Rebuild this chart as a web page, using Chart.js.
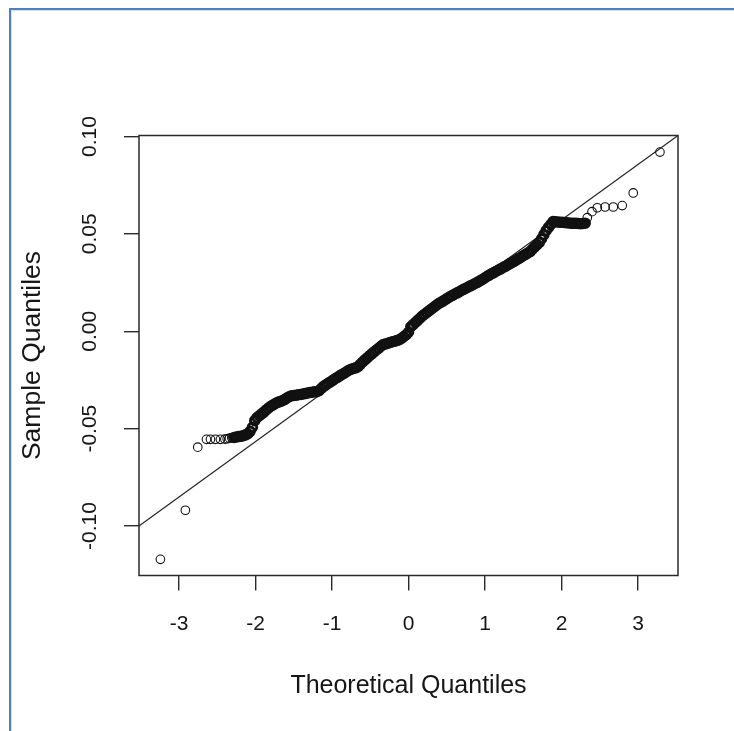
<!DOCTYPE html>
<html>
<head>
<meta charset="utf-8">
<title>Normal Q-Q Plot</title>
<script src="https://cdn.jsdelivr.net/npm/chart.js@4.4.1/dist/chart.umd.min.js"></script>
<style>
  html, body { margin: 0; padding: 0; background: #fff; overflow: hidden; }
  #frame {
    position: absolute; left: 9px; top: 8px; width: 780px; height: 780px;
    border-left: 2px solid #4f7fbf; border-top: 2px solid #4f7fbf;
    box-shadow: inset 1px 1px 0 #d6e2f2;
  }
  #wrap { position: absolute; left: 0; top: 0; width: 734px; height: 731px; }
</style>
</head>
<body>
<div id="frame"></div>
<div id="wrap"><canvas id="qq"></canvas></div>
<script>
// theoretical quantiles (x) and sample quantiles (y)
const theoretical = [
  -3.243, -2.917, -2.755, -2.641, -2.589, -2.524, -2.459,
  -2.40, -2.37, -2.34, -2.31, -2.28, -2.25, -2.22, -2.19, -2.16, -2.13,
  -2.10, -2.07, -2.04, -2.01, -1.98, -1.95, -1.92, -1.89, -1.86, -1.83,
  -1.80, -1.77, -1.74, -1.71, -1.68, -1.65, -1.62, -1.59, -1.56, -1.53,
  -1.50, -1.47, -1.44, -1.41, -1.38, -1.35, -1.32, -1.29, -1.26, -1.23,
  -1.20, -1.17, -1.14, -1.11, -1.08, -1.05, -1.02, -0.99, -0.96, -0.93,
  -0.90, -0.87, -0.84, -0.81, -0.78, -0.75, -0.72, -0.69, -0.66, -0.63,
  -0.60, -0.57, -0.54, -0.51, -0.48, -0.45, -0.42, -0.39, -0.36, -0.33,
  -0.30, -0.27, -0.24, -0.21, -0.18, -0.15, -0.12, -0.09, -0.06, -0.03,
  0.00, 0.03, 0.06, 0.09, 0.12, 0.15, 0.18, 0.21, 0.24, 0.27,
  0.30, 0.33, 0.36, 0.39, 0.42, 0.45, 0.48, 0.51, 0.54, 0.57,
  0.60, 0.63, 0.66, 0.69, 0.72, 0.75, 0.78, 0.81, 0.84, 0.87,
  0.90, 0.93, 0.96, 0.99, 1.02, 1.05, 1.08, 1.11, 1.14, 1.17,
  1.20, 1.23, 1.26, 1.29, 1.32, 1.35, 1.38, 1.41, 1.44, 1.47,
  1.50, 1.53, 1.56, 1.59, 1.62, 1.65, 1.68, 1.71, 1.74, 1.77,
  1.80, 1.83, 1.86, 1.89, 1.92, 1.95, 1.98, 2.01, 2.04, 2.07,
  2.10, 2.13, 2.16, 2.19, 2.22, 2.25, 2.28, 2.31,
  2.337, 2.399, 2.468, 2.569, 2.677, 2.794, 2.938, 3.287
];
const sample = [
  -0.1171, -0.0919, -0.0595, -0.0555, -0.0555, -0.0555, -0.0555,
  -0.0554, -0.0552, -0.0549, -0.0547, -0.0545, -0.0543, -0.0541, -0.0539, -0.0536, -0.0532,
  -0.0526, -0.0514, -0.0493, -0.0459, -0.0443, -0.0434, -0.0424, -0.0415, -0.0404, -0.0394,
  -0.0385, -0.0378, -0.0371, -0.0365, -0.0361, -0.0357, -0.0351, -0.0343, -0.0336, -0.0331,
  -0.0330, -0.0328, -0.0326, -0.0325, -0.0322, -0.0320, -0.0317, -0.0315, -0.0313, -0.0311,
  -0.0310, -0.0305, -0.0294, -0.0283, -0.0275, -0.0267, -0.0260, -0.0252, -0.0244, -0.0237,
  -0.0229, -0.0222, -0.0215, -0.0208, -0.0200, -0.0195, -0.0191, -0.0188, -0.0182, -0.0170,
  -0.0158, -0.0147, -0.0137, -0.0126, -0.0116, -0.0106, -0.0096, -0.0087, -0.0077, -0.0068,
  -0.0065, -0.0061, -0.0058, -0.0054, -0.0051, -0.0047, -0.0043, -0.0036, -0.0027, -0.0018,
  -0.0005, 0.0023, 0.0034, 0.0045, 0.0056, 0.0067, 0.0078, 0.0087, 0.0096, 0.0105,
  0.0114, 0.0123, 0.0132, 0.0141, 0.0148, 0.0155, 0.0162, 0.0170, 0.0177, 0.0183,
  0.0190, 0.0196, 0.0202, 0.0209, 0.0215, 0.0221, 0.0227, 0.0233, 0.0239, 0.0245,
  0.0251, 0.0258, 0.0265, 0.0272, 0.0280, 0.0287, 0.0294, 0.0300, 0.0307, 0.0313,
  0.0319, 0.0326, 0.0332, 0.0339, 0.0346, 0.0352, 0.0359, 0.0366, 0.0373, 0.0380,
  0.0388, 0.0395, 0.0402, 0.0409, 0.0421, 0.0433, 0.0445, 0.0456, 0.0475, 0.0496,
  0.0517, 0.0533, 0.0548, 0.0563, 0.0562, 0.0561, 0.0560, 0.0559, 0.0558, 0.0557,
  0.0556, 0.0555, 0.0554, 0.0554, 0.0553, 0.0552, 0.0553, 0.0555,
  0.0583, 0.0614, 0.0634, 0.0638, 0.0638, 0.0645, 0.0710, 0.0920
];

// qqline end points, read at the plot edges
const lineX = [-3.523, 3.523];
const lineY = [-0.1000, 0.1005];

const xTicks = [-3, -2, -1, 0, 1, 2, 3];
const yTicks = [-0.10, -0.05, 0.00, 0.05, 0.10];

const FONT = "'Liberation Sans', Arial, sans-serif";
const INK = "#161616";

// R draws a full box around the plot region
const plotBox = {
  id: "plotBox",
  afterDraw(chart) {
    const { ctx, chartArea: a } = chart;
    ctx.save();
    ctx.strokeStyle = "#2a2a2a";
    ctx.lineWidth = 1.5;
    ctx.strokeRect(a.left, a.top, a.right - a.left, a.bottom - a.top);
    ctx.restore();
  },
};

// in the crowded middle the original's ~1000 circles merge into a solid band;
// a heavier ring stroke there stands in for that overplotting
const ringWidth = (c) => {
  const x = c.raw ? c.raw.x : 0;
  return x > -2.3 && x < 2.32 ? 2.9 : 1.1;
};

new Chart(document.getElementById("qq"), {
  type: "scatter",
  data: {
    datasets: [
      {
        label: "Sample",
        data: theoretical.map((x, i) => ({ x: x, y: sample[i] })),
        pointStyle: "circle",
        pointRadius: 4.3,
        pointBorderWidth: ringWidth,
        pointBorderColor: "#111",
        pointBackgroundColor: "rgba(0,0,0,0)",
        showLine: false,
        order: 1,
      },
      {
        type: "line",
        label: "qqline",
        data: lineX.map((x, i) => ({ x: x, y: lineY[i] })),
        borderColor: "#222",
        borderWidth: 1.1,
        pointRadius: 0,
        fill: false,
        order: 2,
      },
    ],
  },
  options: {
    responsive: true,
    maintainAspectRatio: false,
    animation: false,
    events: [],
    layout: { padding: { top: 135.5, right: 56, bottom: 0, left: 0 } },
    plugins: {
      legend: { display: false },
      tooltip: { enabled: false },
    },
    scales: {
      x: {
        type: "linear",
        min: -3.523,
        max: 3.523,
        afterBuildTicks: (s) => { s.ticks = xTicks.map((v) => ({ value: v })); },
        afterFit: (s) => { s.height = 155.5; },
        grid: { drawOnChartArea: false, drawTicks: true, tickLength: 15, color: "#2a2a2a", lineWidth: 1.4 },
        border: { display: false },
        ticks: {
          color: INK,
          padding: 21,
          maxRotation: 0,
          font: { family: FONT, size: 21 },
          callback: (v) => String(v),
        },
        title: {
          display: true,
          text: "Theoretical Quantiles",
          color: INK,
          font: { family: FONT, size: 25 },
          padding: { top: 0, bottom: 30 },
        },
      },
      y: {
        type: "linear",
        min: -0.1254,
        max: 0.1005,
        afterBuildTicks: (s) => { s.ticks = yTicks.map((v) => ({ value: v })); },
        afterFit: (s) => { s.width = 139; },
        grid: { drawOnChartArea: false, drawTicks: true, tickLength: 15, color: "#2a2a2a", lineWidth: 1.4 },
        border: { display: false },
        ticks: {
          color: INK,
          padding: 10,
          minRotation: 90,
          maxRotation: 90,
          crossAlign: "center",
          font: { family: FONT, size: 21 },
          callback: (v) => v.toFixed(2),
        },
        title: {
          display: true,
          text: "Sample Quantiles",
          color: INK,
          font: { family: FONT, size: 26.5 },
          padding: { top: 17, bottom: 0 },
        },
      },
    },
  },
  plugins: [plotBox],
});
</script>
</body>
</html>
